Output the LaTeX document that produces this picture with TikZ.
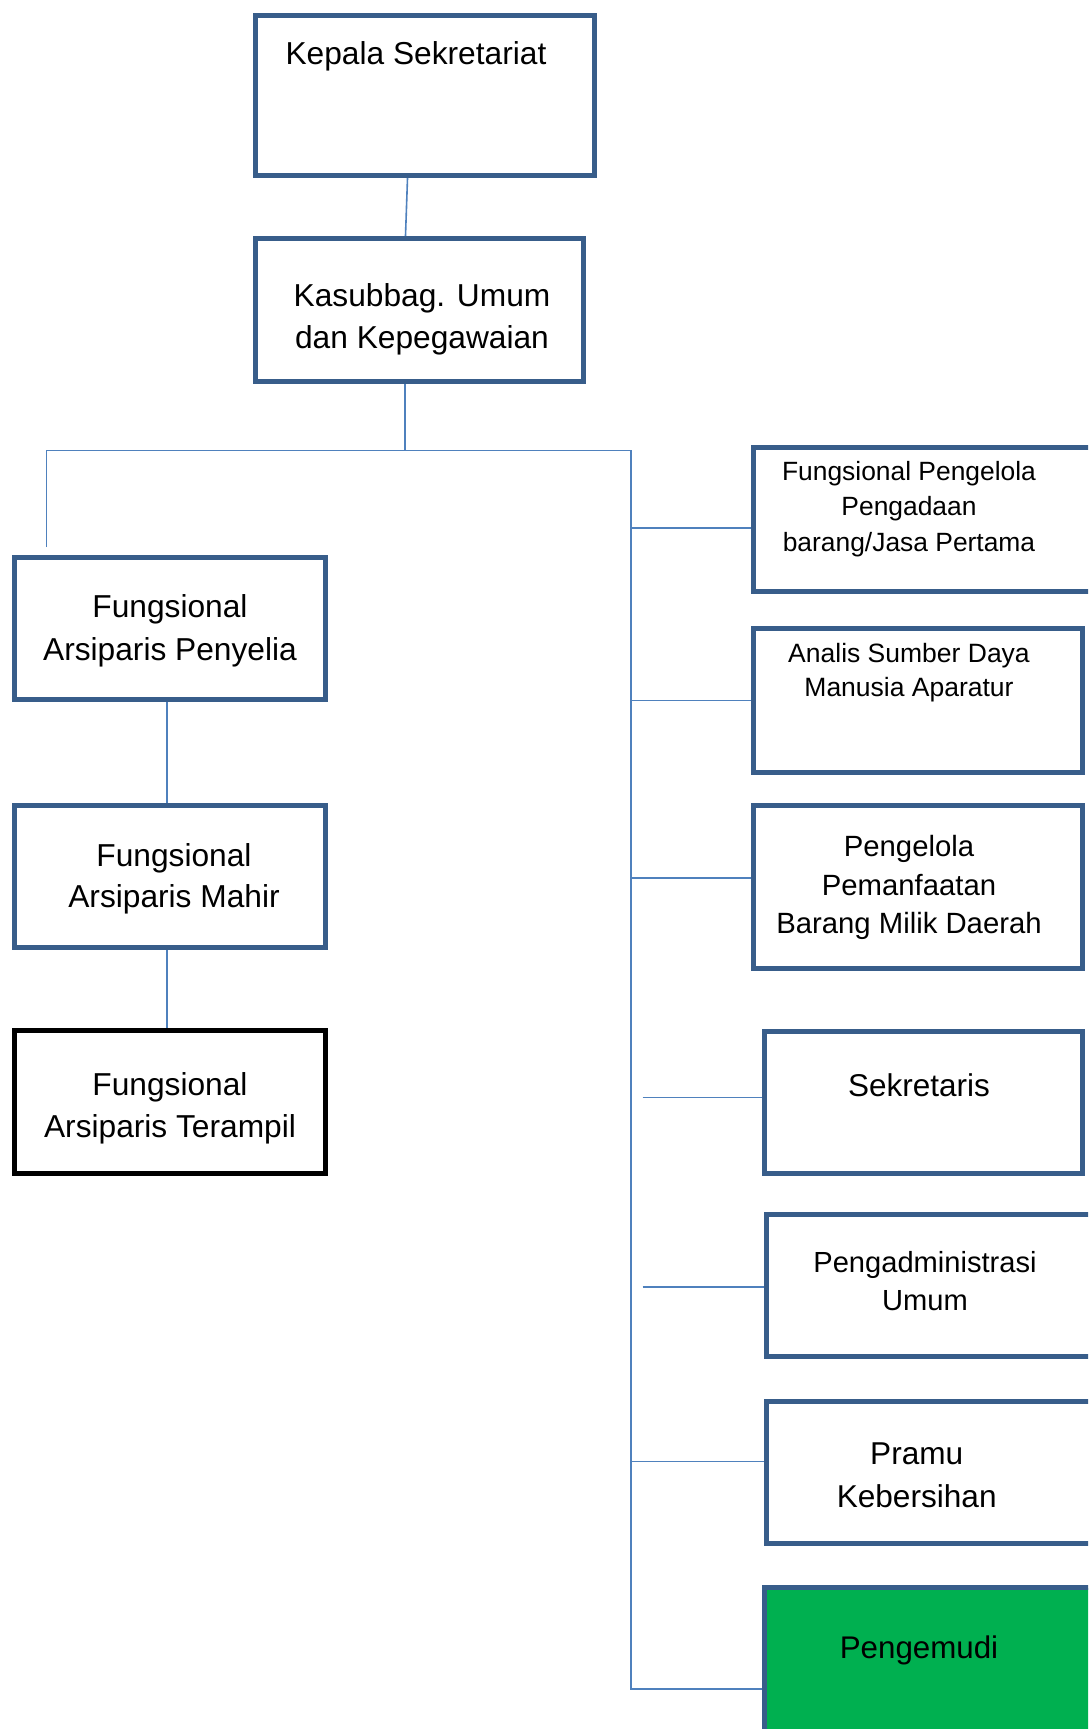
\documentclass[tikz,border=0pt]{standalone}
\usepackage{fontspec}
\setmainfont{Liberation Sans}
\usetikzlibrary{backgrounds}
\definecolor{boxblue}{HTML}{385D8A}
\definecolor{linkblue}{HTML}{4F81BD}
\definecolor{drivergreen}{HTML}{00B050}
\newcommand\lbl[3]{\fontsize{#1}{#2}\selectfont\begin{tabular}[t]{@{}c@{}}#3\end{tabular}}
\begin{document}
\begin{tikzpicture}[x=1pt,y=-1pt,
  orgbox/.style={draw=boxblue, line width=5pt, fill=white, inner sep=0pt, outer sep=0pt, rectangle},
  link/.style={draw=linkblue, line width=1.6pt},
  lbltext/.style={anchor=base, inner sep=0pt, outer sep=0pt, text=black}]
\useasboundingbox (0,0) rectangle (1088,1729);
\begin{scope}
\clip (0,0) rectangle (1088,1729);
% boxes
\node[orgbox, minimum width=339pt, minimum height=160.5pt] (kepala) at (425,95.25) {};
\node[orgbox, minimum width=328pt, minimum height=143pt] (kasub) at (419.5,310) {};
\node[orgbox, minimum width=311.5pt, minimum height=142.5pt] (peny) at (169.75,628.25) {};
\node[orgbox, minimum width=311.5pt, minimum height=142pt] (mahir) at (169.75,876.5) {};
\node[orgbox, draw=black, minimum width=311.5pt, minimum height=142.5pt] (teram) at (169.75,1101.75) {};
\node[orgbox, minimum width=347pt, minimum height=143.5pt] (fpp) at (926.5,519.25) {};
\node[orgbox, minimum width=329.5pt, minimum height=144pt] (asdm) at (917.75,700) {};
\node[orgbox, minimum width=329.5pt, minimum height=163.5pt] (ppbmd) at (917.75,886.75) {};
\node[orgbox, minimum width=318pt, minimum height=142pt] (sek) at (923.5,1102) {};
\node[orgbox, minimum width=333.5pt, minimum height=142.5pt] (adm) at (933.25,1285.25) {};
\node[orgbox, minimum width=333.5pt, minimum height=142pt] (pramu) at (933.25,1472.5) {};
\node[orgbox, fill=drivergreen, minimum width=335.5pt, minimum height=157.5pt] (driver) at (932.25,1666.25) {};
% labels
\node[lbltext] (tkepala) at (416,64.3) {\lbl{31.7}{42}{Kepala Sekretariat}};
\node[lbltext] (tkasub) at (422,306.4) {\lbl{31.7}{42}{Kasubbag. Umum\\dan Kepegawaian}};
\node[lbltext] (tpeny) at (170,617.9) {\lbl{31.7}{43}{Fungsional\\Arsiparis Penyelia}};
\node[lbltext] (tmahir) at (174,866) {\lbl{31.7}{41}{Fungsional\\Arsiparis Mahir}};
\node[lbltext] (tteram) at (170,1095.5) {\lbl{31.7}{42}{Fungsional\\Arsiparis Terampil}};
\node[lbltext] (tfpp) at (909,480) {\lbl{26.4}{35.5}{Fungsional Pengelola\\Pengadaan\\barang/Jasa Pertama}};
\node[lbltext] (tasdm) at (909,662) {\lbl{26.5}{34.5}{Analis Sumber Daya\\Manusia Aparatur}};
\node[lbltext] (tppbmd) at (909,856.8) {\lbl{29.3}{38.4}{Pengelola\\Pemanfaatan\\Barang Milik Daerah}};
\node[lbltext] (tsek) at (919,1096) {\lbl{31.5}{42}{Sekretaris}};
\node[lbltext] (tadm) at (925,1272) {\lbl{29.1}{38.5}{Pengadministrasi\\Umum}};
\node[lbltext] (tpramu) at (916.7,1464) {\lbl{31.6}{43.7}{Pramu\\Kebersihan}};
\node[lbltext] (tdriver) at (919,1658) {\lbl{31.3}{42}{Pengemudi}};
\end{scope}
% connectors
\begin{pgfonlayer}{background}
\fill[white] (0,0) rectangle (1088,1729);
\coordinate (junc) at (405,450.5);
\coordinate (busL) at (46.5,450.5);
\coordinate (busR) at (631,450.5);
\coordinate (leftEnd) at (46.5,547);
\coordinate (busEnd) at (631,1690);
\coordinate (b1) at (631,528);
\coordinate (b2) at (631,700.4);
\coordinate (b3) at (631,878);
\coordinate (s1) at (642.7,1097.6);
\coordinate (s2) at (642.7,1287);
\coordinate (b4) at (631,1461.6);
\coordinate (b5) at (631,1689);
\draw[link] ([xshift=-17.4pt]kepala.south) -- ([xshift=-14.1pt]kasub.north);
\draw[link] ([xshift=-14.5pt]kasub.south) -- (junc);
\draw[link] (leftEnd) -- (busL) -- (busR) -- (busEnd);
\draw[link] (b1) -- (b1 -| fpp.west);
\draw[link] (b2) -- (b2 -| asdm.west);
\draw[link] (b3) -- (b3 -| ppbmd.west);
\draw[link] (s1) -- (s1 -| sek.west);
\draw[link] (s2) -- (s2 -| adm.west);
\draw[link] (b4) -- (b4 -| pramu.west);
\draw[link] (b5) -- (b5 -| driver.west);
\draw[link] ([xshift=-3pt]peny.south) -- ([xshift=-3pt]mahir.north);
\draw[link] ([xshift=-3pt]mahir.south) -- ([xshift=-3pt]teram.north);
\end{pgfonlayer}
\end{tikzpicture}
\end{document}
